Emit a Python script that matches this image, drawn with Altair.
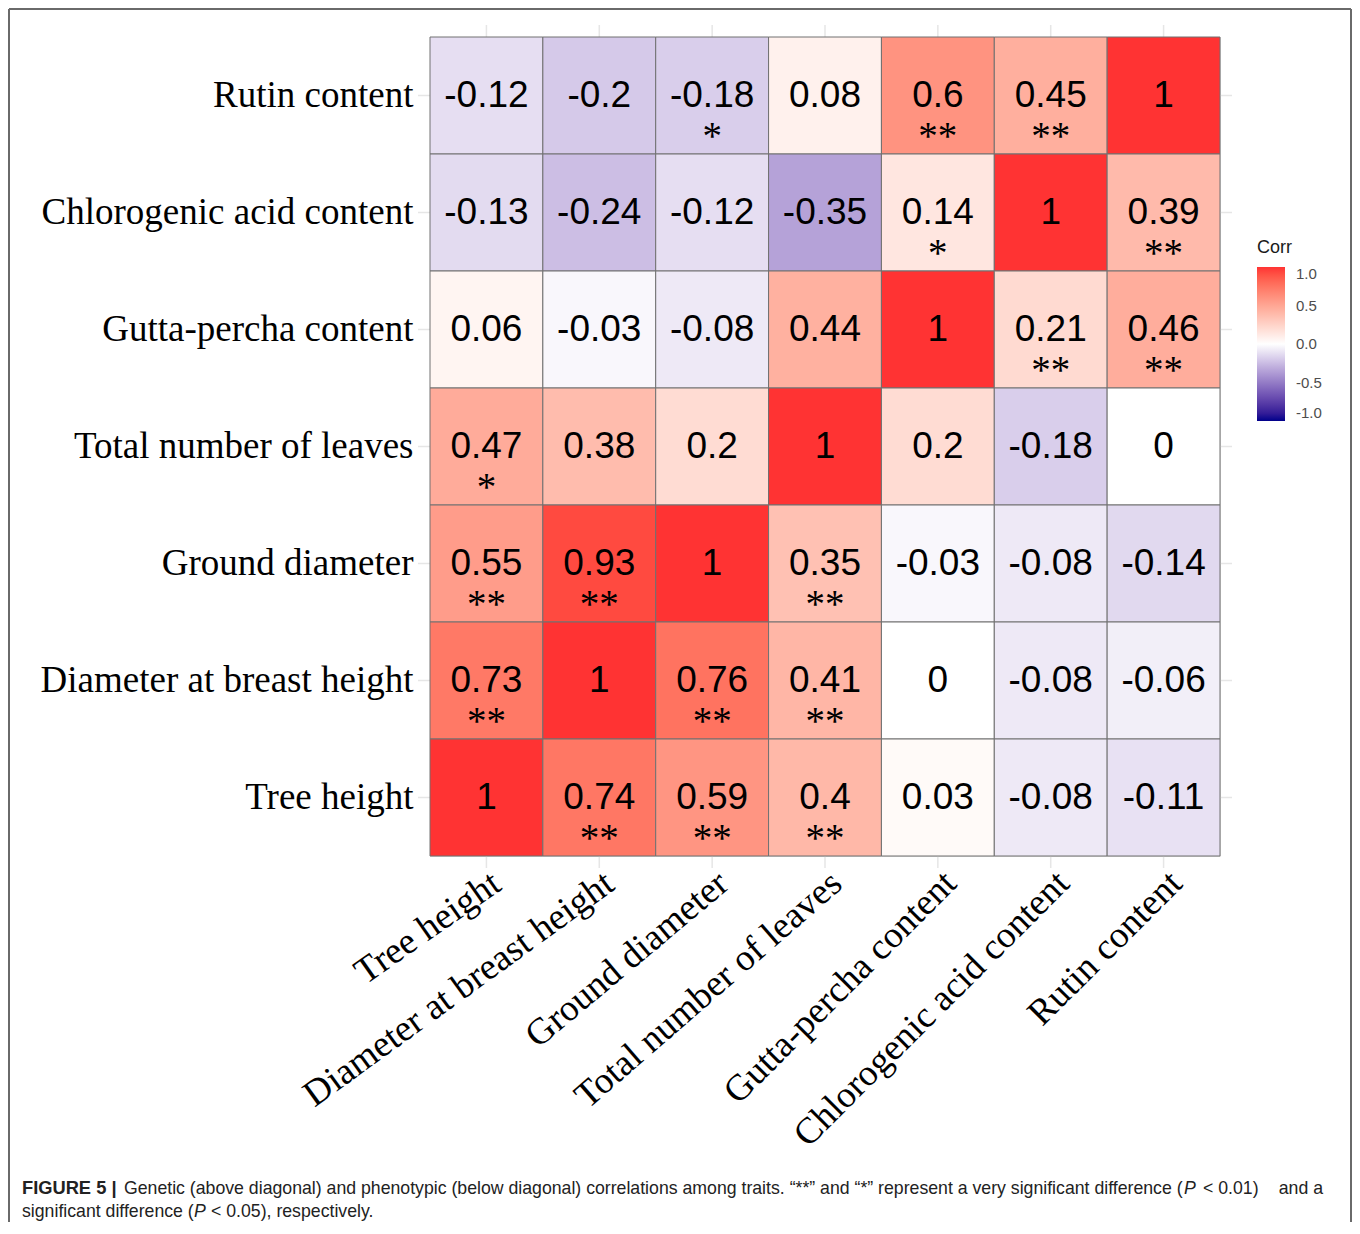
import altair as alt
import pandas as pd

# ---------------- data ----------------
cols = ["Tree height", "Diameter at breast height", "Ground diameter",
        "Total number of leaves", "Gutta-percha content",
        "Chlorogenic acid content", "Rutin content"]
rows = ["Rutin content", "Chlorogenic acid content", "Gutta-percha content",
        "Total number of leaves", "Ground diameter",
        "Diameter at breast height", "Tree height"]

rutin_vals = [-0.12, -0.2, -0.18, 0.08, 0.6, 0.45, 1]
chloro_vals = [-0.13, -0.24, -0.12, -0.35, 0.14, 1, 0.39]
gutta_vals = [0.06, -0.03, -0.08, 0.44, 1, 0.21, 0.46]
leaves_vals = [0.47, 0.38, 0.2, 1, 0.2, -0.18, 0]
ground_vals = [0.55, 0.93, 1, 0.35, -0.03, -0.08, -0.14]
dbh_vals = [0.73, 1, 0.76, 0.41, 0, -0.08, -0.06]
height_vals = [1, 0.74, 0.59, 0.4, 0.03, -0.08, -0.11]

rutin_sig = ["", "", "*", "", "**", "**", ""]
chloro_sig = ["", "", "", "", "*", "", "**"]
gutta_sig = ["", "", "", "", "", "**", "**"]
leaves_sig = ["*", "", "", "", "", "", ""]
ground_sig = ["**", "**", "", "**", "", "", ""]
dbh_sig = ["**", "", "**", "**", "", "", ""]
height_sig = ["", "**", "**", "**", "", "", ""]

legend_values = [-1.0, -0.5, 0.0, 0.5, 1.0]

# ---------------- styling (as seen in the reference) ----------------
# slant of each rotated x label, degrees counter-clockwise
x_label_slant = {"Tree height": 35, "Diameter at breast height": 36,
                 "Ground diameter": 40, "Total number of leaves": 41,
                 "Gutta-percha content": 45, "Chlorogenic acid content": 45,
                 "Rutin content": 45}

all_vals = [rutin_vals, chloro_vals, gutta_vals, leaves_vals,
            ground_vals, dbh_vals, height_vals]
all_sig = [rutin_sig, chloro_sig, gutta_sig, leaves_sig,
           ground_sig, dbh_sig, height_sig]


def fmt(v):
    s = f"{v:.2f}".rstrip("0").rstrip(".")
    return "0" if s in ("-0", "") else s


recs = []
for r, vals, sigs in zip(rows, all_vals, all_sig):
    for c, v, s in zip(cols, vals, sigs):
        recs.append({"row": r, "col": c, "value": v, "label": fmt(v), "sig": s})
df = pd.DataFrame(recs)

xlab_df = pd.DataFrame({"col": cols,
                        "ang": [360 - x_label_slant[c] for c in cols]})

W, H = 790, 819
AX_FONT = 37

xaxis = alt.Axis(orient="bottom", labels=False, domain=False, ticks=False,
                 grid=False, title=None)
yaxis = alt.Axis(orient="left", labelAlign="right", labelBaseline="middle",
                 labelPadding=17, labelFont="Liberation Serif",
                 labelFontSize=AX_FONT,
                 labelColor="black", labelLimit=0, labelOverlap=False,
                 domain=False, ticks=False, grid=False, title=None)

X = alt.X("col:N", sort=cols, scale=alt.Scale(padding=0), axis=xaxis)
Y = alt.Y("row:N", sort=rows, scale=alt.Scale(padding=0), axis=yaxis)

base = alt.Chart(df)

grid_x = alt.Chart(pd.DataFrame({"col": cols})).mark_rule(
    color="#E6E6E6", strokeWidth=1.5).encode(
    x=X, y=alt.value(-12), y2=alt.value(H + 12))
grid_y = alt.Chart(pd.DataFrame({"row": rows})).mark_rule(
    color="#E6E6E6", strokeWidth=1.5).encode(
    y=Y, x=alt.value(-12), x2=alt.value(W + 12))

rect = base.mark_rect(stroke="#707070", strokeWidth=1).encode(
    x=X, y=Y,
    color=alt.Color(
        "value:Q",
        scale=alt.Scale(domain=[-1, 0, 1],
                        range=["#00008B", "#FFFFFF", "#FF3333"],
                        interpolate="lab"),
        legend=alt.Legend(
            title="Corr", orient="none", legendX=827, legendY=202,
            direction="vertical", gradientLength=154, gradientThickness=28,
            gradientStrokeWidth=0, values=legend_values,
            labelExpr="replace(format(datum.value, '.1f'), '\u2212', '-')",
            labelFont="Liberation Sans", labelFontSize=15, labelColor="#4D4D4D",
            labelBaseline="middle",
            labelOffset=11, titleFont="Liberation Sans", titleFontSize=18,
            titleFontWeight="normal", titleColor="#1A1A1A", titlePadding=10),
    ),
)

nums = base.mark_text(font="Liberation Sans", fontSize=37, color="black",
                      baseline="middle").encode(x=X, y=Y, text="label:N")

stars = base.mark_text(font="Liberation Serif", fontSize=39, color="black",
                       baseline="middle", dy=41).encode(x=X, y=Y, text="sig:N")

xlabels = alt.Chart(xlab_df).mark_text(
    font="Liberation Serif", fontSize=AX_FONT, color="black",
    align="right", baseline="top").encode(
    x=X, y=alt.value(H + 9), angle=alt.Angle("ang:Q", scale=None),
    text="col:N")

one = pd.DataFrame({"a": [0]})
frame_color = "#6A6A6A"
frame_top = alt.Chart(one).mark_rule(color=frame_color, strokeWidth=2).encode(
    x=alt.value(-421), x2=alt.value(921), y=alt.value(-28))
frame_left = alt.Chart(one).mark_rule(color=frame_color, strokeWidth=2).encode(
    x=alt.value(-421), y=alt.value(-28), y2=alt.value(1190))
frame_right = alt.Chart(one).mark_rule(color=frame_color, strokeWidth=2).encode(
    x=alt.value(921), y=alt.value(-28), y2=alt.value(1190))

cap_font = "Liberation Sans"
cap_size = 17.7
cap_color = "#222222"
L1 = 1194 - 37
L2 = 1217 - 37


def cap(text, x, y, align="left", weight="normal", style="normal", size=cap_size):
    return alt.Chart(pd.DataFrame({"t": [text]})).mark_text(
        font=cap_font, fontSize=size, color=cap_color, align=align,
        baseline="alphabetic", fontWeight=weight, fontStyle=style).encode(
        x=alt.value(x), y=alt.value(y), text="t:N")


caption = [
    cap("FIGURE 5 |", 22 - 430, L1, weight="bold", size=18.3),
    cap("Genetic (above diagonal) and phenotypic (below diagonal) correlations "
        "among traits. \u201c**\u201d and \u201c*\u201d represent a very "
        "significant difference (", 124 - 430, L1),
    cap("P", 1184 - 430, L1, style="italic"),
    cap("< 0.01)", 1203 - 430, L1),
    cap("and a", 1323 - 430, L1, align="right"),
    cap("significant difference (", 22 - 430, L2),
    cap("P", 194 - 430, L2, style="italic"),
    cap("< 0.05), respectively.", 211 - 430, L2),
]

chart = alt.layer(grid_x, grid_y, rect, nums, stars, xlabels,
                  frame_top, frame_left, frame_right, *caption).properties(
    width=W, height=H,
    autosize=alt.AutoSizeParams(type="none"),
    padding={"left": 422, "top": 29, "right": 132, "bottom": 366},
).configure_view(stroke=None).configure(background="white")

chart.save("out.html", embed_options={"renderer": "svg", "actions": False})
